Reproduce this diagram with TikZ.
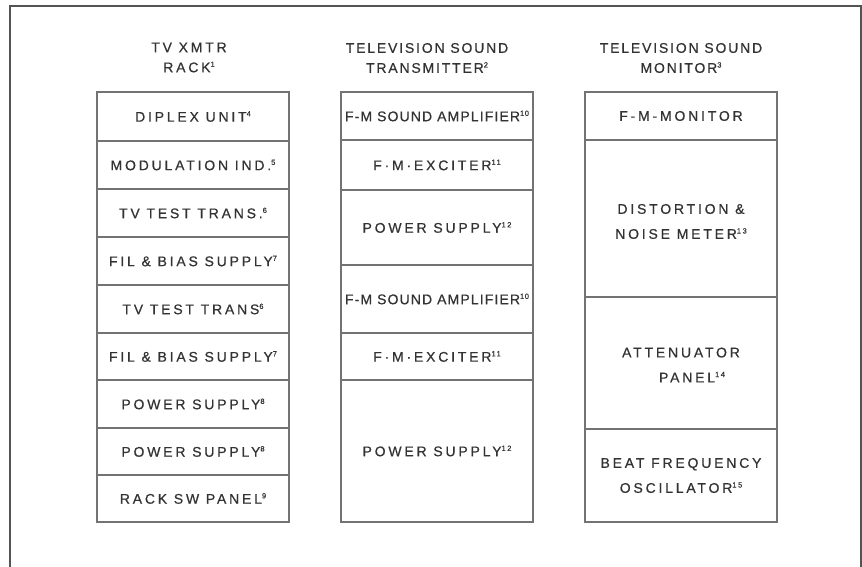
\documentclass[tikz,border=0pt]{standalone}
\usepackage{fontspec}
\newfontfamily\lett{Liberation Sans}[LetterSpace=20,FakeBold=0.6]
\newfontfamily\letttight{Liberation Sans}[LetterSpace=8,FakeBold=0.6]
\newfontfamily\lettmid{Liberation Sans}[LetterSpace=13,FakeBold=0.6]
\newcommand\sps[1]{\raisebox{0.38em}{\fontsize{7.5}{8}\selectfont #1}}
\definecolor{inkline}{gray}{0.45}
\definecolor{inktext}{gray}{0.2}
\definecolor{inkframe}{gray}{0.33}
\tikzset{
  box/.style={draw=inkline, line width=1.1pt, rectangle, inner sep=0pt,
    minimum width=192pt, text=inktext, align=center,
    font=\lett\fontsize{14}{25}\selectfont},
  lbl/.style={text=inktext, align=center, inner sep=0pt,
    font=\lett\fontsize{14}{25}\selectfont},
  title/.style={text=inktext, align=center, inner sep=0pt,
    font=\lett\fontsize{14}{20}\selectfont},
  frame/.style={draw=inkframe, line width=1.8pt}
}
\begin{document}
\begin{tikzpicture}[x=1pt,y=-1pt]
\useasboundingbox (0,0) rectangle (862,567);
\coordinate (fbl) at (10,567);
\coordinate (ftl) at (10,6);
\coordinate (ftr) at (861,6);
\coordinate (fbr) at (861,567);
\draw[frame] (fbl) -- (ftl) -- (ftr) -- (fbr);

% titles
\node[title] (t1) at (189,57.5) {TV XMTR\\RACK\sps{1}};
\node[title, font=\lettmid\fontsize{14}{20}\selectfont] (t2) at (427,58) {TELEVISION SOUND\\TRANSMITTER\sps{2}};
\node[title, font=\lettmid\fontsize{14}{20}\selectfont] (t3) at (681,58) {TELEVISION SOUND\\MONITOR\sps{3}};

% column 1
\node[box, minimum height=49pt] (a1) at (193,116.5) {DIPLEX UNIT\sps{4}};
\node[box, minimum height=48pt] (a2) at (193,165) {MODULATION IND.\sps{5}};
\node[box, minimum height=48pt] (a3) at (193,213) {TV TEST TRANS.\sps{6}};
\node[box, minimum height=48pt] (a4) at (193,261) {FIL \& BIAS SUPPLY\sps{7}};
\node[box, minimum height=48pt] (a5) at (193,309) {TV TEST TRANS\sps{6}};
\node[box, minimum height=47pt] (a6) at (193,356.5) {FIL \& BIAS SUPPLY\sps{7}};
\node[box, minimum height=48pt] (a7) at (193,404) {POWER SUPPLY\sps{8}};
\node[box, minimum height=47pt] (a8) at (193,451.5) {POWER SUPPLY\sps{8}};
\node[box, minimum height=47pt] (a9) at (193,498.5) {RACK SW PANEL\sps{9}};

% column 2
\node[box, minimum height=48pt, font=\letttight\fontsize{14}{25}\selectfont] (b1) at (437,116) {F-M SOUND AMPLIFIER\sps{10}};
\node[box, minimum height=50pt] (b2) at (437,165) {F·M·EXCITER\sps{11}};
\node[box, minimum height=75pt] (b3) at (437,227.5) {POWER SUPPLY\sps{12}};
\node[box, minimum height=68pt, font=\letttight\fontsize{14}{25}\selectfont] (b4) at (437,299) {F-M SOUND AMPLIFIER\sps{10}};
\node[box, minimum height=47pt] (b5) at (437,356.5) {F·M·EXCITER\sps{11}};
\node[box, minimum height=142pt] (b6) at (437,451) {POWER SUPPLY\sps{12}};

% column 3
\node[box, minimum height=48pt] (c1) at (681,116) {F-M-MONITOR};
\node[box, minimum height=157pt] (c2) at (681,218.5) {};
\node[box, minimum height=132pt] (c3) at (681,363) {};
\node[box, minimum height=93pt] (c4) at (681,475.5) {};
\node[lbl] (c2t) at ([yshift=-3pt]c2.center) {DISTORTION \&\\NOISE METER\sps{13}};
\node[lbl] (c3t) at ([yshift=-2pt]c3.center) {ATTENUATOR\\\hspace*{22pt}PANEL\sps{14}};
\node[lbl] (c4t) at ([yshift=0pt]c4.center) {BEAT FREQUENCY\\OSCILLATOR\sps{15}};
\end{tikzpicture}
\end{document}
